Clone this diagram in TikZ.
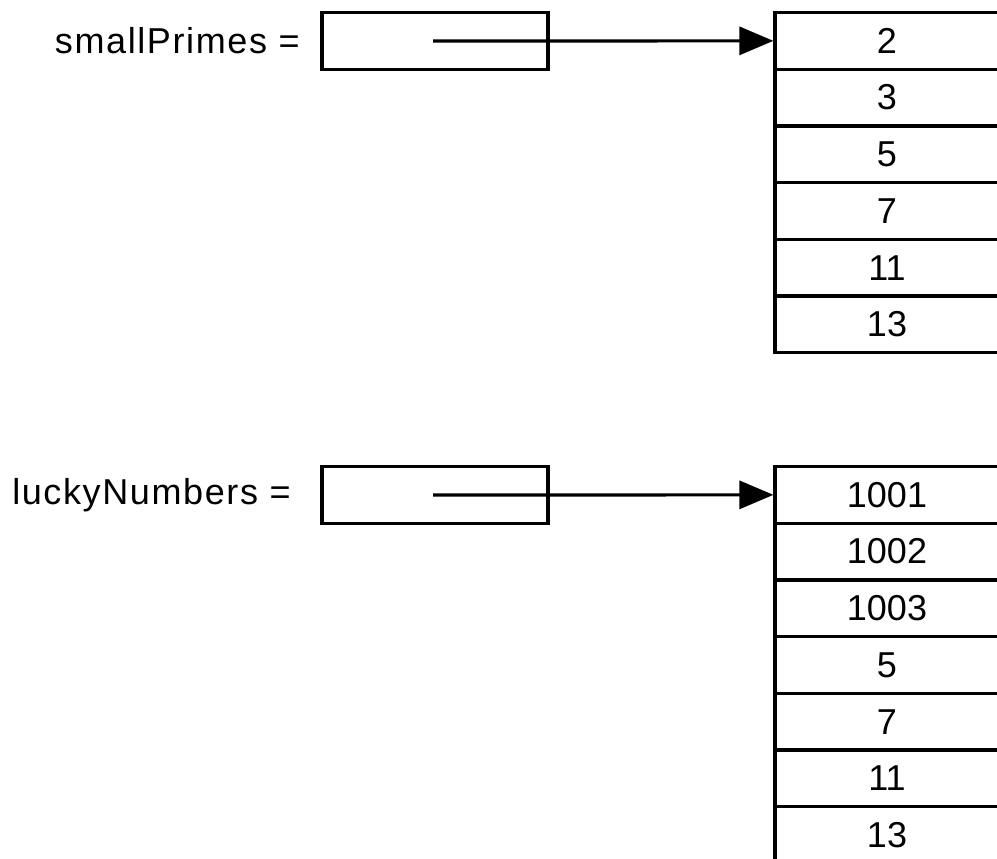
\documentclass[tikz,border=0pt]{standalone}
\usepackage{fontspec}
\setmainfont{Liberation Sans}
\newfontfamily\lblfont[LetterSpace=4.5]{Liberation Sans}
\usetikzlibrary{arrows.meta}
\begin{document}
\begin{tikzpicture}[x=1pt,y=-1pt,
  every node/.style={font=\fontsize{36}{42}\selectfont},
  cell/.style={draw,line width=3.2pt,rectangle,minimum width=224pt,minimum height=56.7pt,inner sep=0pt,anchor=center},
  ptrbox/.style={draw,line width=3.2pt,rectangle,minimum width=226pt,minimum height=57.5pt,inner sep=0pt},
  lbl/.style={anchor=east,inner sep=0pt,font=\lblfont\fontsize{36}{42}\selectfont},
  ptr/.style={line width=3.2pt,-{Triangle[length=34pt,width=28pt]}}]
\clip (0,0) rectangle (997,859);
\fill[white] (0,0) rectangle (997,859);
% top
\node[lbl] (l1) at (300,41) {smallPrimes =};
\node[ptrbox] (b1) at (435,41) {};
\foreach \v [count=\i from 0] in {2,3,5,7,11,13}{
  \node[cell] (a\i) at (887,{12.5+(\i+0.5)*56.7}) {\v};
}
\coordinate (s1) at (433,41);
\draw[ptr] (s1) -- (a0.west);
% bottom
\node[lbl] (l2) at (291,495) {luckyNumbers =};
\node[ptrbox] (b2) at (435,495) {};
\foreach \v [count=\i from 0] in {1001,1002,1003,5,7,11,13}{
  \node[cell] (c\i) at (887,{466.5+(\i+0.5)*56.7}) {\v};
}
\coordinate (s2) at (433,495);
\draw[ptr] (s2) -- (c0.west);
\end{tikzpicture}
\end{document}
